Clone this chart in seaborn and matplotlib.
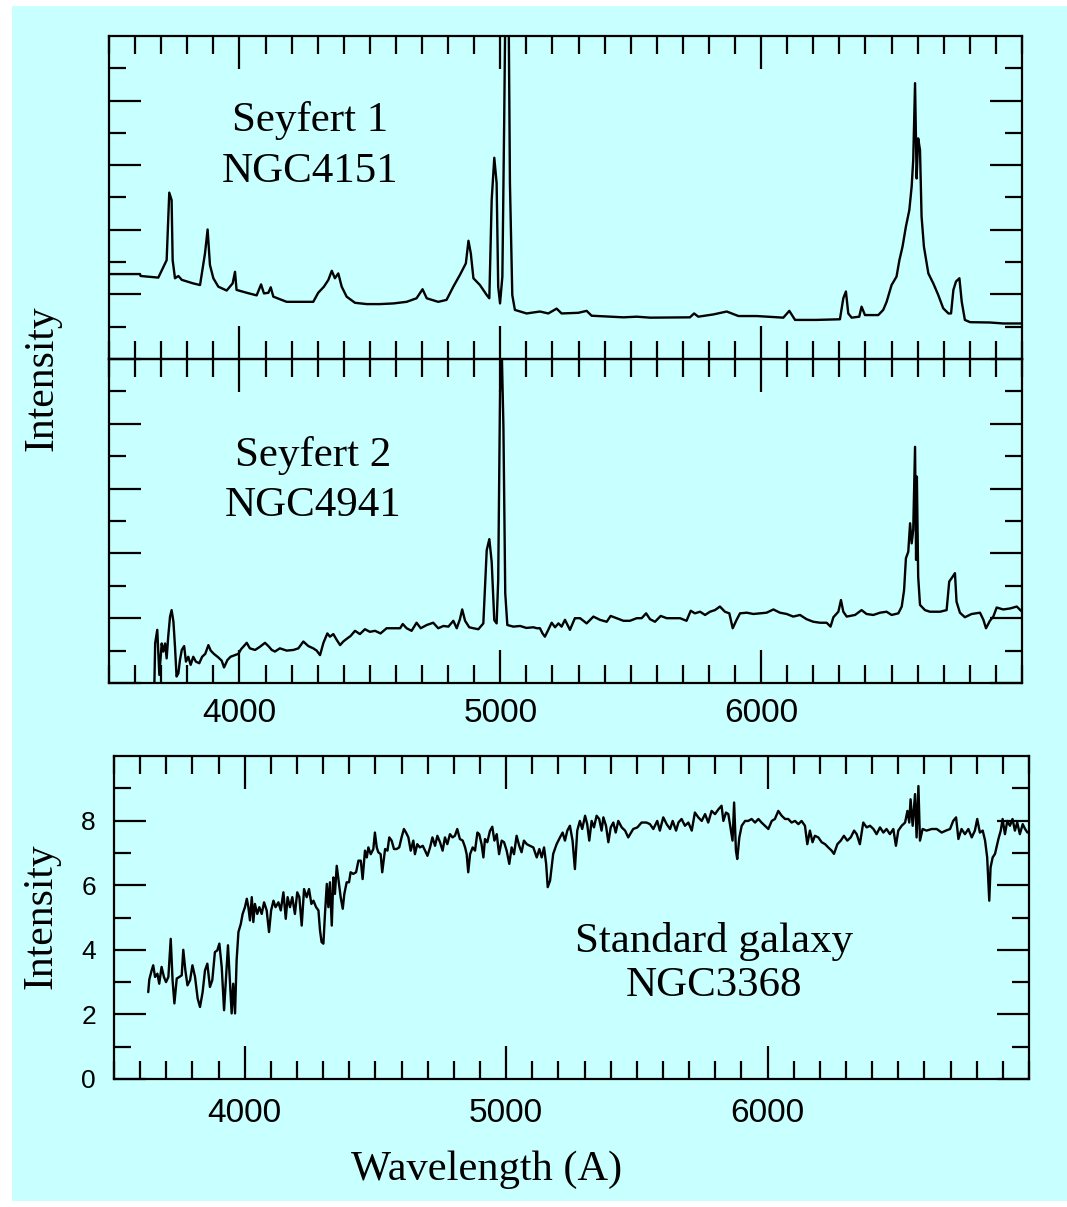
import matplotlib
matplotlib.use("Agg")
import matplotlib.pyplot as plt
from matplotlib.patches import Rectangle
from matplotlib.ticker import FixedLocator, MultipleLocator
import numpy as np
import seaborn as sns

# ---------------------------------------------------------------- data
# Seyfert 1, NGC4151 (relative intensity, wavelength in Angstrom)
wave_sy1 = [3500, 3619, 3621, 3689, 3721, 3731, 3740, 3744, 3753, 3766,
            3779, 3823, 3849, 3868, 3878, 3887, 3900, 3919, 3951, 3974,
            3983, 3989, 4028, 4066, 4083, 4094, 4111, 4120, 4130, 4181,
            4283, 4302, 4324, 4341, 4354, 4366, 4379, 4392, 4411, 4443,
            4488, 4539, 4590, 4641, 4679, 4702, 4718, 4762, 4794, 4820,
            4845, 4868, 4878, 4887, 4897, 4922, 4948, 4958, 4967, 4977,
            4986, 4992, 4999, 5008, 5015, 5022, 5031, 5037, 5046, 5056,
            5101, 5152, 5184, 5216, 5235, 5299, 5331, 5350, 5472, 5523,
            5574, 5727, 5743, 5759, 5817, 5868, 5913, 5983, 6085, 6108,
            6130, 6213, 6302, 6315, 6325, 6334, 6347, 6376, 6385, 6398,
            6449, 6468, 6481, 6500, 6519, 6530, 6542, 6555, 6568, 6577,
            6583, 6590, 6596, 6602, 6609, 6615, 6624, 6641, 6660, 6679,
            6698, 6718, 6728, 6737, 6747, 6760, 6769, 6781, 6801, 6877,
            6928, 7000]
flux_sy1 = [2.63, 2.63, 2.57, 2.52, 3.06, 5.15, 4.92, 3.06, 2.50, 2.57,
            2.45, 2.34, 2.29, 3.27, 4.01, 2.91, 2.50, 2.24, 2.12, 2.34,
            2.70, 2.14, 2.05, 1.97, 2.31, 2.03, 2.05, 2.22, 1.93, 1.77,
            1.77, 2.05, 2.24, 2.45, 2.73, 2.50, 2.65, 2.24, 1.93, 1.74,
            1.70, 1.70, 1.72, 1.77, 1.88, 2.16, 1.88, 1.77, 1.83, 2.24,
            2.60, 2.96, 3.66, 3.27, 2.50, 2.29, 1.98, 1.88, 4.92, 6.23,
            5.44, 2.24, 1.72, 2.55, 7.40, 13.0, 12.0, 5.44, 1.98, 1.52,
            1.41, 1.47, 1.41, 1.56, 1.41, 1.43, 1.49, 1.34, 1.29, 1.31,
            1.28, 1.29, 1.41, 1.31, 1.38, 1.47, 1.33, 1.33, 1.28, 1.49,
            1.21, 1.21, 1.23, 1.88, 2.09, 1.41, 1.28, 1.31, 1.62, 1.36,
            1.36, 1.52, 1.77, 2.29, 2.55, 3.06, 3.48, 4.10, 4.61, 5.34,
            6.16, 8.54, 5.59, 6.83, 6.47, 4.41, 3.48, 2.65, 2.34, 1.98,
            1.57, 1.41, 1.41, 2.14, 2.40, 2.50, 1.77, 1.21, 1.14, 1.13,
            1.10, 1.10]

# Seyfert 2, NGC4941
wave_sy2 = [3674, 3677, 3685, 3693, 3702, 3708, 3715, 3721, 3727, 3734,
            3740, 3747, 3753, 3759, 3766, 3772, 3779, 3788, 3795, 3804,
            3813, 3823, 3833, 3846, 3857, 3869, 3881, 3890, 3902, 3919,
            3932, 3941, 3954, 3966, 3983, 3996, 4006, 4017, 4028, 4040,
            4060, 4079, 4098, 4111, 4124, 4136, 4155, 4181, 4207, 4226,
            4245, 4264, 4283, 4296, 4309, 4322, 4337, 4347, 4360, 4373,
            4386, 4398, 4414, 4426, 4443, 4462, 4481, 4500, 4520, 4541,
            4564, 4590, 4616, 4626, 4641, 4660, 4679, 4695, 4718, 4743,
            4762, 4782, 4801, 4820, 4833, 4845, 4854, 4865, 4881, 4897,
            4916, 4935, 4948, 4958, 4967, 4977, 4986, 4992, 4999, 5005,
            5012, 5019, 5027, 5050, 5076, 5100, 5127, 5140, 5152, 5162,
            5171, 5184, 5197, 5210, 5223, 5235, 5248, 5267, 5286, 5306,
            5331, 5357, 5382, 5408, 5423, 5446, 5472, 5497, 5523, 5542,
            5559, 5574, 5593, 5615, 5638, 5663, 5689, 5714, 5730, 5746,
            5766, 5785, 5804, 5823, 5842, 5861, 5878, 5891, 5906, 5919,
            5945, 5970, 5996, 6021, 6047, 6072, 6098, 6123, 6149, 6174,
            6200, 6226, 6251, 6266, 6277, 6296, 6306, 6315, 6328, 6360,
            6385, 6404, 6430, 6456, 6481, 6500, 6526, 6539, 6548, 6555,
            6564, 6571, 6577, 6583, 6590, 6594, 6597, 6602, 6609, 6628,
            6647, 6686, 6711, 6721, 6734, 6743, 6749, 6762, 6781, 6807,
            6839, 6852, 6862, 6877, 6890, 6903, 6928, 6954, 6980, 7000]
flux_sy2 = [0.00, 1.23, 1.64, 0.25, 1.22, 0.97, 1.22, 0.76, 1.43, 2.05,
            2.25, 1.89, 1.12, 0.20, 0.30, 0.71, 1.02, 1.14, 0.66, 0.81,
            0.56, 0.81, 0.66, 0.61, 0.81, 0.90, 1.17, 1.00, 0.90, 0.79,
            0.69, 0.48, 0.71, 0.81, 0.86, 0.90, 1.04, 1.14, 1.24, 1.07,
            1.02, 1.12, 1.24, 1.14, 1.02, 0.97, 1.07, 1.00, 1.02, 1.07,
            1.28, 1.14, 1.07, 1.00, 0.86, 1.24, 1.53, 1.43, 1.51, 1.33,
            1.17, 1.28, 1.38, 1.45, 1.61, 1.51, 1.66, 1.58, 1.61, 1.53,
            1.69, 1.69, 1.69, 1.82, 1.69, 1.61, 1.86, 1.69, 1.79, 1.86,
            1.69, 1.76, 1.74, 1.92, 1.69, 1.96, 2.27, 1.92, 1.72, 1.69,
            1.66, 1.84, 4.10, 4.44, 3.74, 1.94, 1.84, 3.18, 8.94, 10.50,
            7.91, 2.77, 1.79, 1.74, 1.76, 1.70, 1.72, 1.69, 1.69, 1.53,
            1.43, 1.64, 1.86, 1.72, 1.84, 1.74, 1.95, 1.64, 2.00, 2.00,
            1.84, 2.05, 1.95, 1.89, 2.07, 2.00, 1.92, 1.92, 2.00, 2.00,
            2.15, 1.97, 1.89, 2.07, 2.00, 2.00, 2.00, 1.92, 2.23, 2.15,
            2.20, 2.10, 2.20, 2.25, 2.36, 2.20, 2.15, 1.69, 1.95, 2.15,
            2.17, 2.13, 2.15, 2.17, 2.27, 2.17, 2.13, 2.05, 2.10, 1.97,
            1.89, 1.86, 1.86, 1.74, 2.03, 2.20, 2.56, 2.20, 2.05, 2.10,
            2.25, 2.13, 2.10, 2.17, 2.20, 2.10, 2.15, 2.36, 2.87, 3.85,
            4.05, 4.93, 4.31, 4.72, 7.29, 3.80, 6.37, 3.28, 2.41, 2.25,
            2.20, 2.20, 2.25, 3.13, 3.28, 3.39, 2.51, 2.17, 2.03, 2.13,
            2.17, 1.95, 1.69, 1.92, 2.05, 2.33, 2.27, 2.30, 2.36, 2.20]

# Standard galaxy, NGC3368
wave_gal = [3631, 3635, 3644, 3650, 3657, 3666, 3673, 3682, 3691, 3699,
            3708, 3717, 3724, 3731, 3740, 3750, 3759, 3765, 3773, 3781,
            3791, 3800, 3810, 3820, 3829, 3839, 3848, 3857, 3867, 3876,
            3886, 3895, 3903, 3912, 3921, 3928, 3936, 3944, 3950, 3956,
            3963, 3969, 3976, 3985, 3992, 4001, 4008, 4014, 4020, 4027,
            4033, 4039, 4048, 4056, 4065, 4074, 4084, 4093, 4101, 4110,
            4118, 4129, 4138, 4148, 4157, 4164, 4173, 4182, 4192, 4201,
            4209, 4218, 4227, 4237, 4246, 4255, 4263, 4273, 4282, 4288,
            4294, 4301, 4307, 4314, 4320, 4326, 4333, 4339, 4345, 4352,
            4359, 4367, 4375, 4381, 4390, 4399, 4405, 4415, 4426, 4435,
            4444, 4451, 4460, 4467, 4473, 4482, 4492, 4498, 4505, 4511,
            4520, 4526, 4537, 4546, 4553, 4562, 4571, 4581, 4591, 4600,
            4609, 4617, 4626, 4635, 4645, 4651, 4660, 4670, 4681, 4690,
            4699, 4709, 4718, 4728, 4737, 4747, 4757, 4766, 4775, 4785,
            4795, 4804, 4813, 4823, 4834, 4843, 4849, 4855, 4862, 4872,
            4881, 4890, 4897, 4906, 4913, 4919, 4928, 4938, 4947, 4955,
            4964, 4973, 4983, 4992, 5002, 5012, 5021, 5030, 5040, 5050,
            5059, 5068, 5079, 5091, 5104, 5117, 5127, 5136, 5145, 5153,
            5159, 5168, 5180, 5193, 5206, 5216, 5225, 5234, 5244, 5254,
            5263, 5272, 5282, 5291, 5302, 5310, 5318, 5327, 5336, 5346,
            5356, 5365, 5372, 5382, 5391, 5400, 5410, 5419, 5429, 5442,
            5455, 5467, 5486, 5502, 5518, 5537, 5550, 5563, 5578, 5588,
            5601, 5614, 5627, 5637, 5650, 5659, 5671, 5684, 5697, 5710,
            5722, 5735, 5748, 5761, 5773, 5786, 5799, 5812, 5824, 5831,
            5841, 5850, 5859, 5866, 5872, 5879, 5884, 5892, 5901, 5914,
            5926, 5939, 5952, 5965, 5977, 5990, 6003, 6016, 6028, 6041,
            6054, 6067, 6079, 6092, 6105, 6118, 6130, 6143, 6152, 6162,
            6172, 6181, 6194, 6207, 6220, 6232, 6245, 6254, 6267, 6280,
            6292, 6305, 6318, 6331, 6341, 6353, 6366, 6379, 6392, 6405,
            6417, 6430, 6443, 6455, 6468, 6481, 6491, 6500, 6513, 6526,
            6535, 6542, 6547, 6555, 6564, 6570, 6577, 6583, 6593, 6608,
            6628, 6647, 6666, 6682, 6698, 6710, 6721, 6730, 6742, 6755,
            6768, 6781, 6793, 6802, 6812, 6823, 6832, 6840, 6848, 6853,
            6861, 6870, 6883, 6892, 6899, 6908, 6917, 6927, 6937, 6946,
            6955, 6965, 6976, 6985, 6994]
flux_gal = [2.69, 3.08, 3.36, 3.52, 3.16, 3.26, 2.95, 3.47, 3.16, 3.00,
            3.16, 4.34, 3.06, 2.34, 3.11, 3.16, 3.21, 4.00, 3.36, 2.90,
            3.06, 3.52, 3.16, 2.49, 2.23, 2.69, 3.36, 3.57, 2.85, 3.06,
            3.93, 3.98, 4.19, 3.47, 2.13, 3.06, 4.14, 2.95, 2.03, 2.95,
            2.03, 3.67, 4.55, 4.80, 5.11, 5.32, 5.58, 5.32, 4.91, 5.63,
            4.86, 5.42, 5.11, 5.32, 5.11, 5.47, 5.22, 4.55, 5.22, 5.52,
            5.32, 5.47, 5.22, 5.78, 4.96, 5.63, 5.32, 5.63, 5.11, 5.78,
            5.63, 4.75, 5.88, 5.63, 5.88, 5.42, 5.52, 5.32, 5.22, 4.60,
            4.24, 4.19, 5.11, 6.04, 5.32, 6.09, 4.75, 6.24, 5.73, 6.60,
            6.14, 5.63, 5.27, 5.73, 6.09, 6.09, 6.40, 6.35, 6.40, 6.76,
            6.76, 6.19, 7.07, 6.86, 7.17, 6.96, 7.12, 7.63, 7.17, 7.02,
            6.96, 6.40, 7.12, 7.07, 7.48, 7.38, 7.12, 7.12, 7.17, 7.48,
            7.74, 7.63, 7.48, 7.07, 7.38, 6.96, 7.27, 7.17, 7.22, 7.07,
            6.91, 7.17, 7.48, 7.22, 7.53, 7.33, 7.07, 7.48, 7.27, 7.58,
            7.48, 7.53, 7.74, 7.43, 7.38, 7.17, 6.96, 6.40, 6.96, 7.17,
            7.07, 7.63, 7.58, 7.27, 6.86, 7.43, 7.33, 7.68, 7.81, 7.38,
            7.58, 6.96, 7.38, 7.33, 7.07, 6.66, 7.17, 6.96, 7.53, 7.22,
            7.02, 7.38, 7.27, 7.22, 7.17, 6.86, 7.12, 6.86, 7.17, 6.66,
            5.94, 6.14, 6.97, 7.27, 7.48, 7.63, 7.38, 7.69, 7.84, 7.38,
            6.50, 7.69, 7.99, 7.74, 8.15, 7.89, 7.38, 7.99, 7.79, 8.15,
            8.05, 7.69, 8.10, 7.84, 7.33, 7.79, 7.94, 7.63, 7.99, 7.79,
            7.69, 7.48, 7.74, 7.79, 7.94, 7.94, 7.89, 7.74, 7.99, 7.69,
            8.10, 7.89, 7.74, 7.99, 7.69, 7.94, 8.05, 7.84, 7.94, 7.69,
            8.25, 8.10, 7.99, 8.20, 7.94, 8.30, 8.20, 8.35, 8.46, 7.99,
            8.25, 8.20, 7.74, 7.38, 8.56, 7.07, 6.81, 7.48, 7.84, 7.99,
            7.99, 8.05, 7.94, 8.05, 7.94, 7.84, 7.74, 7.99, 8.05, 8.30,
            8.15, 8.05, 8.05, 7.94, 7.99, 7.89, 7.99, 7.84, 7.27, 7.69,
            7.33, 7.53, 7.48, 7.33, 7.27, 7.17, 7.07, 6.97, 7.27, 7.38,
            7.53, 7.38, 7.48, 7.69, 7.58, 7.27, 7.94, 7.79, 7.84, 7.74,
            7.58, 7.79, 7.63, 7.74, 7.58, 7.74, 7.22, 7.69, 7.84, 7.94,
            8.30, 7.94, 8.66, 7.84, 8.82, 7.48, 9.07, 7.38, 7.74, 7.69,
            7.74, 7.74, 7.63, 7.69, 7.74, 7.99, 8.10, 7.43, 7.74, 7.58,
            7.74, 7.48, 7.69, 8.05, 7.63, 7.69, 7.38, 6.86, 5.52, 6.55,
            6.86, 6.97, 7.43, 7.69, 8.05, 7.58, 7.99, 7.84, 8.05, 7.69,
            7.94, 7.58, 7.89, 7.74, 7.63]

# axis ticks and labels
wave_major = [4000, 5000, 6000]
wave_major_labels = ["4000", "5000", "6000"]
int_major = [0, 2, 4, 6, 8]
int_major_labels = ["0", "2", "4", "6", "8"]
int_minor = [1, 3, 5, 7, 9]

titles_sy1 = ["Seyfert 1", "NGC4151"]
titles_sy2 = ["Seyfert 2", "NGC4941"]
titles_gal = ["Standard galaxy", "NGC3368"]

# ---------------------------------------------------------------- style
sns.set_theme(style="ticks")
plt.rcParams["font.family"] = ["Liberation Sans", "DejaVu Sans"]
SERIF = ["Liberation Serif", "DejaVu Serif"]
PANEL = "#C8FFFF"
INK = "black"

W, H = 1067, 1207
fig = plt.figure(figsize=(W / 100, H / 100), dpi=100, facecolor="white")
fig.patches.append(Rectangle((12 / W, 6 / H), 1055 / W, 1195 / H,
                             transform=fig.transFigure, facecolor=PANEL,
                             edgecolor="none", zorder=-10))


def add_axes_px(x0, y0, x1, y1):
    return fig.add_axes([x0 / W, 1 - y1 / H, (x1 - x0) / W, (y1 - y0) / H])


ax1 = add_axes_px(109, 36, 1022, 359)
ax2 = add_axes_px(109, 359, 1022, 683)
ax3 = add_axes_px(114, 756, 1029, 1079)


def draw_spectrum(ax, wave, flux):
    sns.lineplot(x=np.asarray(wave, float), y=np.asarray(flux, float), ax=ax,
                 color=INK, linewidth=1.7, estimator=None, sort=False,
                 legend=False)


def style_axes(ax):
    ax.set_facecolor("none")
    ax.set_xlim(3500, 7000)
    ax.set_ylim(0, 10)
    ax.xaxis.set_major_locator(FixedLocator(wave_major))
    ax.xaxis.set_minor_locator(MultipleLocator(100))
    ax.yaxis.set_major_locator(FixedLocator(int_major))
    ax.yaxis.set_minor_locator(FixedLocator(int_minor))
    ax.tick_params(axis="both", which="both", direction="in", top=True,
                   right=True, width=1.6, color=INK, labelcolor=INK)
    ax.tick_params(axis="x", which="major", length=24)
    ax.tick_params(axis="x", which="minor", length=13.3)
    ax.tick_params(axis="y", which="major", length=23)
    ax.tick_params(axis="y", which="minor", length=12)
    for sp in ax.spines.values():
        sp.set_linewidth(1.6)
        sp.set_color(INK)
    ax.set_xlabel("")
    ax.set_ylabel("")


draw_spectrum(ax1, wave_sy1, flux_sy1)
draw_spectrum(ax2, wave_sy2, flux_sy2)
draw_spectrum(ax3, wave_gal, flux_gal)
for ax in (ax1, ax2, ax3):
    style_axes(ax)

# top panel: no tick labels
ax1.tick_params(labelbottom=False, labelleft=False)
# middle panel: wavelength labels only
ax2.set_xticks(wave_major, labels=wave_major_labels)
ax2.tick_params(axis="x", which="major", labelsize=24, pad=11)
ax2.tick_params(labelleft=False)
# bottom panel: both axes labelled
ax3.set_xticks(wave_major, labels=wave_major_labels)
ax3.tick_params(axis="x", which="major", labelsize=24, pad=13.5)
ax3.set_yticks(int_major, labels=int_major_labels)
ax3.tick_params(axis="y", which="major", labelsize=19, pad=13)

# axis titles
ax1.set_ylabel("Intensity", family=SERIF, fontsize=30, color=INK,
               ha="center", va="center")
ax1.yaxis.set_label_coords(-(109 - 42) / 913, -(378 - 359) / 323)
ax3.set_ylabel("Intensity", family=SERIF, fontsize=30, color=INK,
               ha="center", va="center")
ax3.yaxis.set_label_coords(-(114 - 41) / 915, (1079 - 916) / 323)
ax3.set_xlabel("Wavelength (A)", family=SERIF, fontsize=30.5, color=INK,
               ha="center", va="center")
ax3.xaxis.set_label_coords((487 - 114) / 915, -(1170 - 1079) / 323)

# object names inside each panel
for ax, lines, xc, baselines in (
        (ax1, titles_sy1, 4270, (7.06, 5.48)),
        (ax2, titles_sy2, 4282, (6.70, 5.15)),
        (ax3, titles_gal, 5795, (3.92, 2.56))):
    for text, yb in zip(lines, baselines):
        ax.text(xc, yb, text, family=SERIF, fontsize=31, color=INK,
                ha="center", va="baseline")

fig.savefig("out.png", dpi=100, facecolor="white")
